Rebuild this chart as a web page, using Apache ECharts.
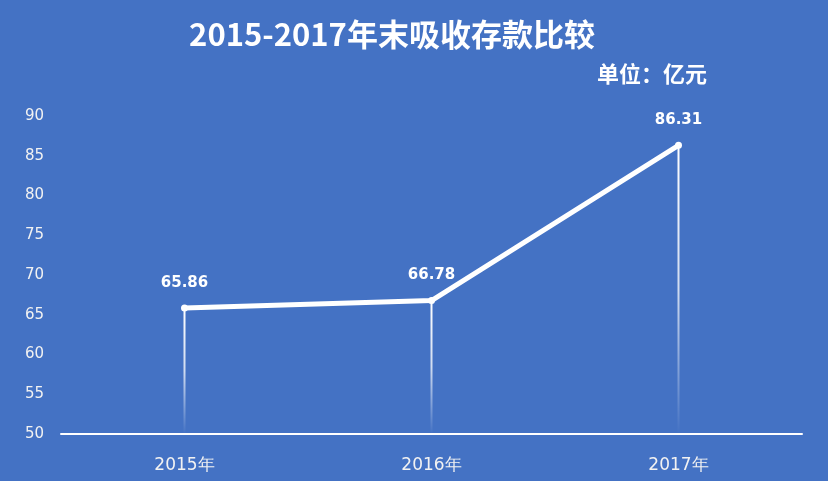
<!DOCTYPE html>
<html><head><meta charset="utf-8">
<script src="https://cdn.jsdelivr.net/npm/echarts@6/dist/echarts.min.js"></script>
<style>html,body{margin:0;padding:0;background:#4472C4;}#c{width:828px;height:481px;}</style>
</head><body><div id="c"></div>
<script>
const categories = ['2015年', '2016年', '2017年'];
const values = [65.86, 66.78, 86.31];
const yTicks = [50, 55, 60, 65, 70, 75, 80, 85, 90];
const titleText = '2015-2017年末吸收存款比较';
const unitText = '单位：亿元';

const chart = echarts.init(document.getElementById('c'));
chart.setOption({
  backgroundColor: '#4472C4',
  animation: false,
  title: [
    { text: titleText, left: 387, top: 10, textAlign: 'center',
      textStyle: { color: '#fff', fontSize: 31, fontWeight: 'bold', fontFamily: 'Noto Sans CJK SC', lineHeight: 38 } },
    { text: unitText, left: 592, top: 58,
      textStyle: { color: '#fff', fontSize: 22, fontWeight: 'bold', fontFamily: 'Noto Sans CJK SC',
        textShadowColor: 'rgba(0,0,40,0.6)', textShadowOffsetX: -1, textShadowOffsetY: 1, textShadowBlur: 0 } }
  ],
  grid: { left: 61, right: 26, top: 116, bottom: 47 },
  xAxis: {
    type: 'category', data: categories, boundaryGap: true,
    axisLine: { lineStyle: { color: '#fff', width: 2 } },
    axisTick: { show: false },
    axisLabel: { color: '#f2f2f2', fontSize: 17, margin: 23, fontFamily: 'DejaVu Sans' }
  },
  yAxis: {
    type: 'value', min: yTicks[0], max: yTicks[yTicks.length - 1], interval: 5,
    axisLine: { show: false }, axisTick: { show: false }, splitLine: { show: false },
    axisLabel: { color: '#f2f2f2', fontSize: 15, margin: 17, fontFamily: 'DejaVu Sans' }
  },
  series: [
    {
      type: 'bar', data: values, barWidth: 2, silent: true,
      itemStyle: {
        color: new echarts.graphic.LinearGradient(0, 0, 0, 1, [
          { offset: 0, color: 'rgba(255,255,255,1)' },
          { offset: 0.5, color: 'rgba(255,255,255,0.75)' },
          { offset: 1, color: 'rgba(255,255,255,0)' }
        ])
      }
    },
    {
      type: 'line', data: values, symbol: 'circle', symbolSize: 7,
      lineStyle: { color: '#fff', width: 5, cap: 'round' },
      itemStyle: { color: '#fff' },
      label: {
        show: true, position: 'top', distance: 14,
        color: '#fff', fontSize: 15, fontWeight: 'bold', fontFamily: 'DejaVu Sans',
        textShadowColor: 'rgba(0,0,50,0.8)', textShadowOffsetX: -1, textShadowOffsetY: 1, textShadowBlur: 0
      }
    }
  ]
});
</script></body></html>
